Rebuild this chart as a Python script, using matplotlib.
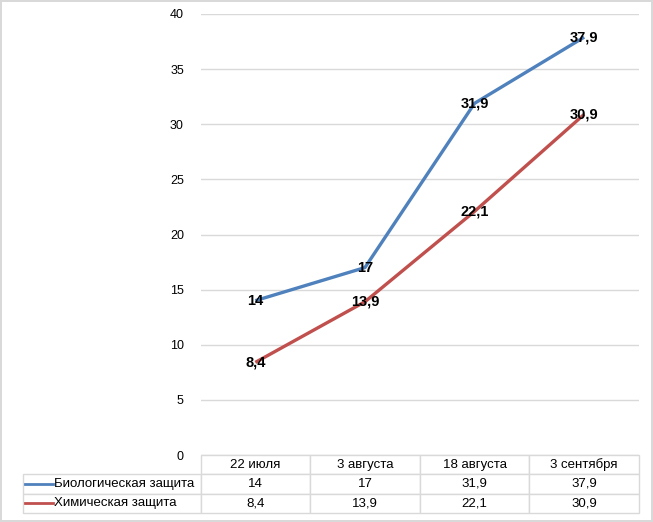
import matplotlib.pyplot as plt
from matplotlib.lines import Line2D

plt.rcParams['font.family'] = ['Liberation Sans', 'DejaVu Sans']

# data
dates = ['22 июля', '3 августа', '18 августа', '3 сентября']
series_names = ['Биологическая защита', 'Химическая защита']
bio = [14, 17, 31.9, 37.9]
chem = [8.4, 13.9, 22.1, 30.9]
y_ticks = [0, 5, 10, 15, 20, 25, 30, 35, 40]

colors = ['#4F81BD', '#C0504D']
grid_col = '#D9D9D9'

W, H = 653, 522
fig = plt.figure(figsize=(W / 100, H / 100), dpi=100)
fig.patch.set_edgecolor('#D9D9D9')
fig.patch.set_linewidth(1.5)

# plot area in pixel coords: x 200..639, y 14..455
px_l, px_r, px_t, px_b = 200.5, 639, 14, 455
ax = fig.add_axes([px_l / W, 1 - px_b / H, (px_r - px_l) / W, (px_b - px_t) / H])
ax.set_xlim(-0.5, len(dates) - 0.5)
ax.set_ylim(0, 40)
ax.set_yticks(y_ticks)
ax.set_xticks([])
for s in ax.spines.values():
    s.set_visible(False)
ax.yaxis.grid(True, color=grid_col, linewidth=1)
ax.set_axisbelow(True)
ax.tick_params(axis='y', length=0, pad=12, labelsize=9)

def fmt(v):
    return ('%g' % v).replace('.', ',')

xs = list(range(len(dates)))
for vals, c in zip([bio, chem], colors):
    ax.plot(xs, vals, color=c, linewidth=2.4, solid_capstyle='butt')
    for x, v in zip(xs, vals):
        ax.text(x, v, fmt(v), ha='center', va='center', fontsize=10.5,
                fontweight='bold', color='black')

# data table below the plot
rows = [[''] + dates,
        [series_names[0]] + [fmt(v) for v in bio],
        [series_names[1]] + [fmt(v) for v in chem]]
first_w = 178
row_h = 19.3
plot_w = px_r - px_l
plot_h = px_b - px_t
col_w = plot_w / 4
tbl_w = first_w + plot_w
tbl = ax.table(cellText=rows,
               colWidths=[first_w / tbl_w] + [col_w / tbl_w] * 4,
               bbox=[-first_w / plot_w, -3 * row_h / plot_h, tbl_w / plot_w, 3 * row_h / plot_h],
               cellLoc='center')
tbl.auto_set_font_size(False)
for (r, c), cell in tbl.get_celld().items():
    cell.set_edgecolor(grid_col)
    cell.set_linewidth(1)
    cell.get_text().set_fontsize(9.5)
    if r == 0 and c == 0:
        cell.visible_edges = ''
    if c == 0 and r > 0:
        cell.get_text().set_ha('left')
        cell.PAD = 31 / first_w

# legend keys in the row labels
for i, c in enumerate(colors):
    yk = 1 - (px_b + row_h * (i + 1.5)) / H
    fig.add_artist(Line2D([25 / W, 53 / W], [yk, yk], color=c, linewidth=2,
                          transform=fig.transFigure))

fig.savefig('out.png', dpi=100)
